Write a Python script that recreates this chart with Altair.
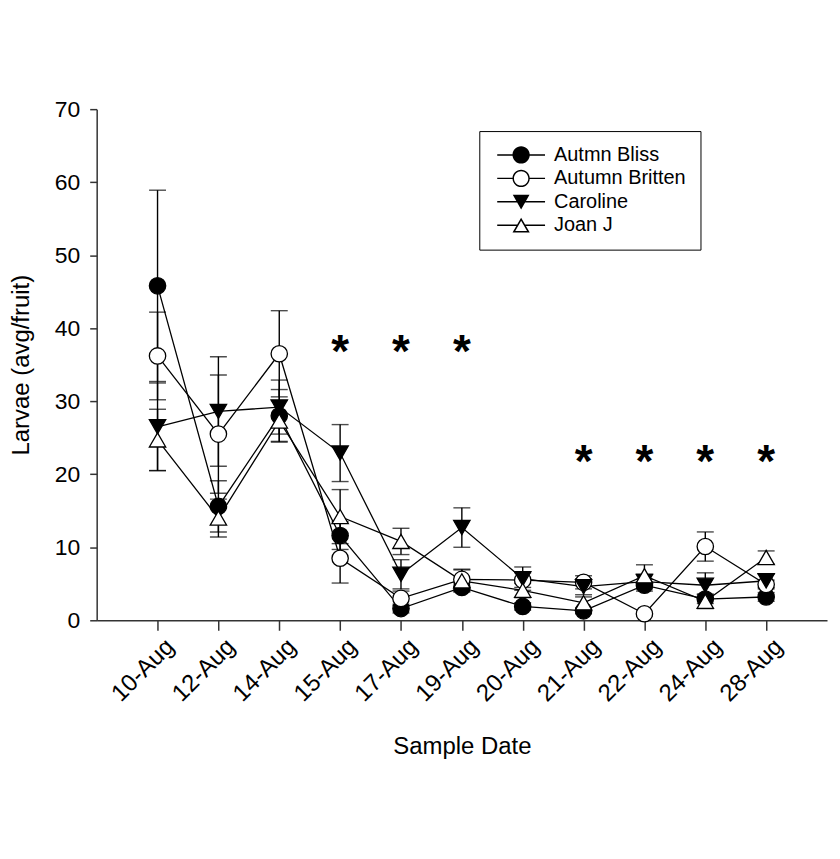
import altair as alt
import pandas as pd

FONT = "Liberation Sans"

dates = ["10-Aug", "12-Aug", "14-Aug", "15-Aug", "17-Aug", "19-Aug",
         "20-Aug", "21-Aug", "22-Aug", "24-Aug", "28-Aug"]
series_names = ["Autmn Bliss", "Autumn Britten", "Caroline", "Joan J"]

bliss_mean = [45.8, 15.6, 28.0, 11.6, 1.6, 4.5, 1.9, 1.3, 4.8, 2.9, 3.2]
bliss_se = [13.1, 3.5, 3.6, 1.9, 0.6, 0.6, 0.5, 0.4, 0.8, 0.6, 0.6]
britten_mean = [36.2, 25.5, 36.5, 8.5, 3.0, 5.6, 5.5, 5.2, 0.9, 10.1, 4.9]
britten_se = [6.0, 8.1, 5.9, 3.4, 1.0, 1.4, 1.0, 0.9, 0.3, 2.0, 0.6]
caroline_mean = [26.5, 28.6, 29.2, 22.9, 6.3, 12.7, 5.7, 4.6, 5.3, 4.8, 5.4]
caroline_se = [6.0, 7.5, 3.7, 3.9, 2.0, 2.7, 1.6, 1.1, 1.0, 1.7, 0.9]
joan_mean = [24.7, 14.0, 27.3, 14.2, 10.8, 5.4, 4.1, 2.4, 6.1, 2.6, 8.6]
joan_se = [4.2, 2.6, 2.8, 3.7, 1.8, 1.5, 1.0, 0.8, 1.5, 1.0, 0.9]

ast_dates = ["15-Aug", "17-Aug", "19-Aug", "21-Aug", "22-Aug", "24-Aug", "28-Aug"]
ast_levels = [37.7, 37.7, 37.7, 22.6, 22.6, 22.6, 22.6]

y_ticks = [0, 10, 20, 30, 40, 50, 60, 70]

marker_shapes = ["circle", "circle", "triangle-down", "triangle-up"]
marker_fills = ["black", "white", "black", "white"]

rows = []
for si, (s, means, ses) in enumerate(zip(series_names,
                                         [bliss_mean, britten_mean, caroline_mean, joan_mean],
                                         [bliss_se, britten_se, caroline_se, joan_se])):
    for i, (d, m, e) in enumerate(zip(dates, means, ses)):
        rows.append(dict(series=s, sidx=si, date=d, idx=i, mean=m,
                         lo=max(m - e, 0), hi=m + e))
df = pd.DataFrame(rows)
ast_df = pd.DataFrame({"date": ast_dates, "level": ast_levels, "txt": ["*"] * len(ast_dates)})

x_axis = alt.Axis(title="Sample Date", labelAngle=-45, labelAlign="right", labelBaseline="top",
                  labelFont=FONT, labelFontSize=24, labelOffset=4,
                  labelColor="black", titleFont=FONT, titleFontSize=24, titleFontWeight="normal",
                  titleColor="black", titleY=127, titleBaseline="middle",
                  tickSize=10, tickWidth=1.5, tickColor="#333", domainColor="#333",
                  domainWidth=1.5, labelPadding=4, grid=False)
y_axis = alt.Axis(title="Larvae (avg/fruit)", values=y_ticks, labelFont=FONT, labelFontSize=23,
                  labelColor="black", titleFont=FONT, titleFontSize=24, titleFontWeight="normal",
                  titleColor="black", titleX=-75, titleBaseline="middle",
                  tickSize=7, tickWidth=1.5, tickColor="#333", domainColor="#333",
                  domainWidth=1.5, labelPadding=10, grid=False)

xscale = alt.Scale(type="point", padding=1)
yscale = alt.Scale(domain=[0, 70], nice=False, zero=True)


def X():
    return alt.X("date:O", sort=dates, scale=xscale, axis=x_axis)


def Y(field):
    return alt.Y(f"{field}:Q", scale=yscale, axis=y_axis)


base = alt.Chart(df)

err = base.mark_rule(color="black", strokeWidth=1.4).encode(
    x=X(), y=Y("lo"), y2="hi:Q")
cap_lo = base.mark_tick(color="black", thickness=1.4, size=17).encode(x=X(), y=Y("lo"))
cap_hi = base.mark_tick(color="black", thickness=1.4, size=17).encode(x=X(), y=Y("hi"))

lines = base.mark_line(color="black", strokeWidth=1.3).encode(
    x=X(), y=Y("mean"), detail="series:N", order="idx:Q")

point_layers = []
for s, shp, fl in zip(series_names, marker_shapes, marker_fills):
    point_layers.append(
        base.transform_filter(alt.datum.series == s).mark_point(
            shape=shp, filled=True, fill=fl, stroke="black", strokeWidth=1.3,
            opacity=1, size=270).encode(x=X(), y=Y("mean")))

# legend symbols: line segment + marker, drawn as filled outlines (unit = sqrt(size)/2 px)
seg_c = "M-3,-0.09L-1.06,-0.09L-1.06,0.09L-3,0.09ZM1.06,-0.09L3,-0.09L3,0.09L1.06,0.09Z"
seg_t = "M-3,-0.09L-0.5,-0.09L-0.5,0.09L-3,0.09ZM0.5,-0.09L3,-0.09L3,0.09L0.5,0.09Z"
filled_circle = "M-1.08,0A1.08,1.08,0,1,1,1.08,0A1.08,1.08,0,1,1,-1.08,0Z"
open_circle = (filled_circle +
               "M-0.9,0A0.9,0.9,0,1,0,0.9,0A0.9,0.9,0,1,0,-0.9,0Z")
filled_tri_down = "M-1.05,-0.9L1.05,-0.9L0,0.95Z"
open_tri_up = ("M0,-0.95L1.08,0.92L-1.08,0.92Z"
               "M0,-0.56L-0.74,0.74L0.74,0.74Z")
leg_paths = [seg_c + filled_circle, seg_c + open_circle,
             seg_t + filled_tri_down, seg_t + open_tri_up]

legend = alt.Legend(title=None, orient="none", legendX=384, legendY=22, direction="vertical",
                    symbolSize=256, symbolFillColor="black", symbolStrokeWidth=0,
                    symbolOpacity=1, symbolOffset=18, labelOffset=23, padding=14, rowPadding=3.5,
                    labelFont=FONT, labelFontSize=20, labelColor="black",
                    strokeColor="black", fillColor="white")
leg_layer = base.transform_filter("datum.mean < -1000").mark_point(
    filled=True, color="black", size=256).encode(
    x=X(), y=Y("mean"),
    shape=alt.Shape("series:N", scale=alt.Scale(domain=series_names, range=leg_paths),
                    legend=legend))

stars = alt.Chart(ast_df).mark_text(font=FONT, fontSize=46, fontWeight="bold", color="black",
                                    baseline="alphabetic", dy=22).encode(
    x=alt.X("date:O", sort=dates, scale=xscale, axis=x_axis),
    y=alt.Y("level:Q", scale=yscale, axis=y_axis),
    text="txt:N")

chart = alt.layer(err, cap_lo, cap_hi, lines, *point_layers, stars, leg_layer).properties(
    width=733, height=513,
    autosize=alt.AutoSizeParams(type="none"),
    padding={"left": 89, "top": 100, "right": 5, "bottom": 220},
    background="white",
).configure_view(stroke=None)

chart.save("out.html", embed_options={"renderer": "svg", "actions": False})
